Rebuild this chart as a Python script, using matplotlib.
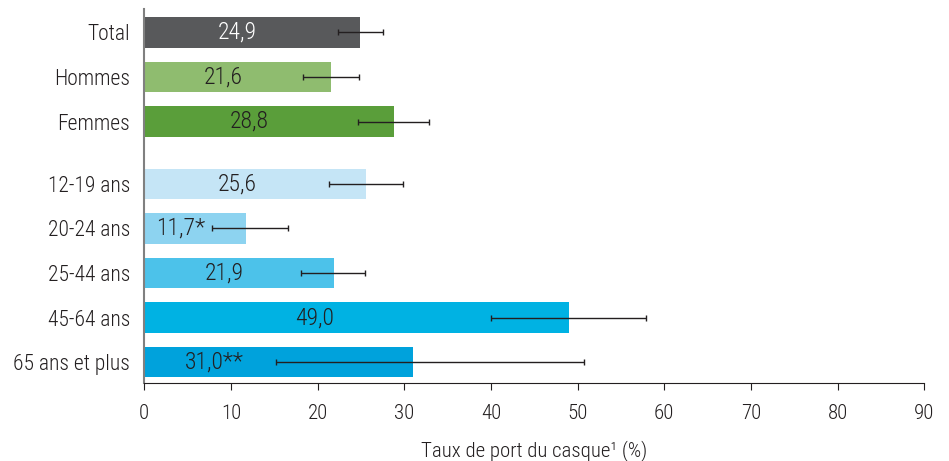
import numpy as np
import matplotlib.pyplot as plt
from matplotlib import font_manager

fams = set(f.name for f in font_manager.fontManager.ttflist)
for cand in ['Roboto Condensed', 'Archivo Narrow', 'PT Sans Narrow', 'Liberation Sans Narrow']:
    if cand in fams:
        plt.rcParams['font.family'] = [cand, 'DejaVu Sans']
        break
plt.rcParams['font.weight'] = 'light'
plt.rcParams['axes.labelweight'] = 'light'

categories = ['Total', 'Hommes', 'Femmes', '12-19 ans', '20-24 ans',
              '25-44 ans', '45-64 ans', '65 ans et plus']
values = [24.9, 21.6, 28.8, 25.6, 11.7, 21.9, 49.0, 31.0]
labels = ['24,9', '21,6', '28,8', '25,6', '11,7*', '21,9', '49,0', '31,0**']
ci_low = [22.3, 18.3, 24.7, 21.3, 7.8, 18.1, 40.0, 15.2]
ci_high = [27.5, 24.8, 32.9, 29.8, 16.6, 25.5, 57.9, 50.7]

colors = ['#58595b', '#8fbc6f', '#5a9e3a', '#c5e5f6', '#8dd3f0',
          '#4cc2ea', '#00b2e3', '#00a2dc']
text_colors = ['white'] + ['#231f20'] * 7
label_frac = [0.43, 0.42, 0.42, 0.42, 0.36, 0.42, 0.40, 0.26]

# positions: gap between sexe and age groups
ypos = np.array([0, 1, 2, 3.4, 4.4, 5.4, 6.4, 7.4])

fig = plt.figure(figsize=(9.49, 4.61), dpi=100)
ax = fig.add_axes([0.152, 0.169, 0.822, 0.811])

ax.barh(ypos, values, height=0.68, color=colors, zorder=2)
err = [np.array(values) - np.array(ci_low), np.array(ci_high) - np.array(values)]
ax.errorbar(values, ypos, xerr=err, fmt='none', ecolor='#231f20',
            elinewidth=1.0, capsize=2.5, capthick=1.0, zorder=3)

for y, v, lab, c, f in zip(ypos, values, labels, text_colors, label_frac):
    ax.text(v * f, y, lab, ha='center', va='center', color=c, fontsize=17, zorder=4)

ax.set_yticks(ypos)
ax.set_yticklabels(categories, fontsize=15.5, color='#231f20')
ax.set_ylim(7.87, -0.52)
ax.set_xlim(0, 90)
ax.set_xticks(np.arange(0, 91, 10))
ax.tick_params(axis='x', labelsize=15, colors='#231f20', length=5, width=0.8, pad=10)
ax.tick_params(axis='y', length=0, pad=10)
ax.set_xlabel('Taux de port du casque¹ (%)', fontsize=15, color='#231f20', labelpad=12)

for s in ['top', 'right']:
    ax.spines[s].set_visible(False)
ax.spines['left'].set_color('#808080')
ax.spines['left'].set_linewidth(1.5)
ax.spines['bottom'].set_color('#231f20')
ax.spines['bottom'].set_linewidth(0.8)

fig.savefig('out.png', dpi=100)
